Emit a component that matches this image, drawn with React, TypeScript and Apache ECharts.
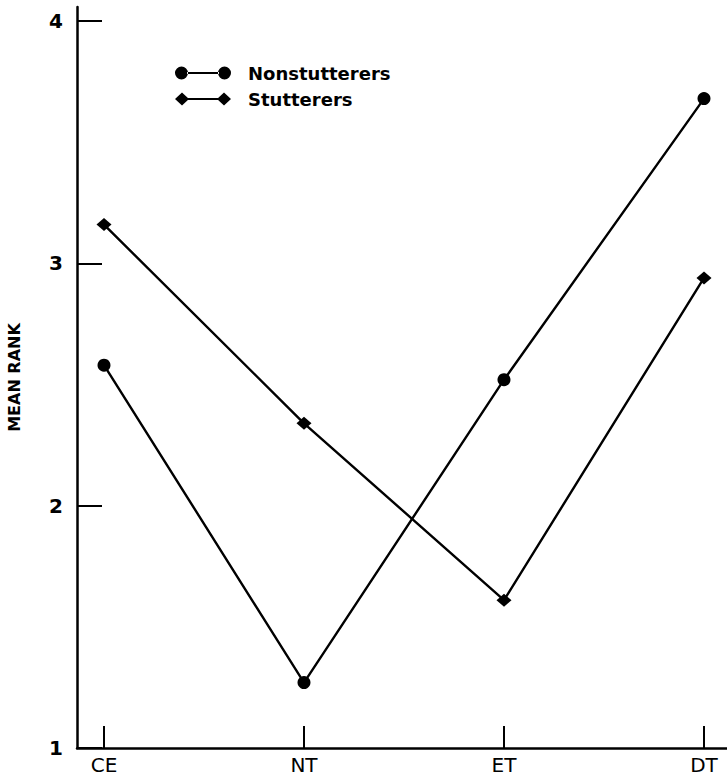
import React, { useEffect, useRef } from "react";
import * as echarts from "echarts";

const categories = ["CE", "NT", "ET", "DT"];
const nonstutterers = [2.58, 1.27, 2.52, 3.68];
const stutterers = [3.16, 2.34, 1.61, 2.94];
const yTicks = [1, 2, 3, 4];

const circleIcon =
  "path://M0,7 a6.5,6.5 0 1,0 13,0 a6.5,6.5 0 1,0 -13,0 Z M12,6 L44,6 L44,8 L12,8 Z M43,7 a6.5,6.5 0 1,0 13,0 a6.5,6.5 0 1,0 -13,0 Z";
const diamondIcon =
  "path://M0,7 L7,0.5 L14,7 L7,13.5 Z M12,6 L44,6 L44,8 L12,8 Z M42,7 L49,0.5 L56,7 L49,13.5 Z";

export default function App() {
  const ref = useRef<HTMLDivElement>(null);
  useEffect(() => {
    if (!ref.current) return;
    const chart = echarts.init(ref.current, null, { renderer: "svg" });
    const font = "DejaVu Sans, Liberation Sans, sans-serif";
    chart.setOption({
      animation: false,
      backgroundColor: "#fff",
      grid: { left: 77, right: 0, top: 7, bottom: 30, containLabel: false, outerBoundsMode: "none" },
      legend: {
        left: 170,
        top: 59,
        orient: "vertical",
        itemWidth: 56,
        itemHeight: 14,
        itemGap: 8,
        textStyle: {
          fontFamily: font,
          fontSize: 18,
          fontWeight: "bold",
          lineHeight: 14,
          color: "#000",
          padding: [0, 0, 0, 12],
        },
        data: [
          { name: "Nonstutterers", icon: circleIcon },
          { name: "Stutterers", icon: diamondIcon },
        ],
      },
      xAxis: {
        type: "value",
        min: -0.135,
        max: 3.115,
        splitLine: { show: false },
        axisLine: { show: true, onZero: false, lineStyle: { color: "#000", width: 2.5 } },
        axisTick: {
          show: true,
          inside: true,
          length: 22,
          lineStyle: { color: "#000", width: 2 },
          customValues: categories.map((_, i) => i),
        },
        axisLabel: {
          customValues: categories.map((_, i) => i),
          formatter: (v: number) => categories[Math.round(v)] ?? "",
          fontFamily: font,
          fontSize: 20,
          color: "#000",
          margin: 7,
        },
      },
      yAxis: {
        type: "value",
        min: 1,
        max: 4.058,
        name: "MEAN RANK",
        nameLocation: "middle",
        nameRotate: 90,
        nameGap: 55,
        nameTextStyle: { fontFamily: font, fontSize: 16, fontWeight: "bold", color: "#000" },
        splitLine: { show: false },
        axisLine: { show: true, onZero: false, lineStyle: { color: "#000", width: 2.5 } },
        axisTick: {
          show: true,
          inside: true,
          length: 25,
          lineStyle: { color: "#000", width: 2 },
          customValues: yTicks,
        },
        axisLabel: {
          customValues: yTicks,
          fontFamily: font,
          fontSize: 20,
          fontWeight: "bold",
          color: "#000",
          margin: 14,
        },
      },
      series: [
        {
          name: "Nonstutterers",
          type: "line",
          data: nonstutterers.map((v, i) => [i, v]),
          symbol: "circle",
          symbolSize: 13,
          itemStyle: { color: "#000" },
          lineStyle: { color: "#000", width: 2.4 },
        },
        {
          name: "Stutterers",
          type: "line",
          data: stutterers.map((v, i) => [i, v]),
          symbol: "diamond",
          symbolSize: [15, 13],
          itemStyle: { color: "#000" },
          lineStyle: { color: "#000", width: 2.4 },
        },
      ],
    });
    return () => chart.dispose();
  }, []);
  return <div ref={ref} style={{ width: 727, height: 778, position: "absolute", left: 0, top: 0 }} />;
}
